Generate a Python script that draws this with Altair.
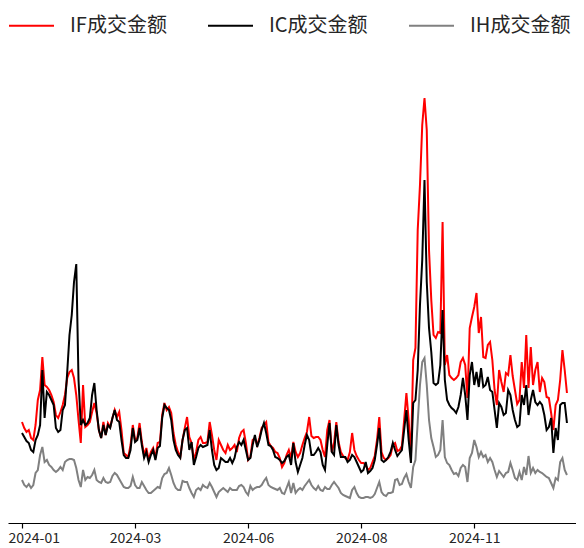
import altair as alt
import pandas as pd

series_names = ["IF成交金额", "IC成交金额", "IH成交金额"]
series_colors = ["#ff0000", "#000000", "#808080"]
draw_order = ["IH成交金额", "IF成交金额", "IC成交金额"]

tick_days = [0, 50, 100, 150, 200]
tick_labels = ["2024-01", "2024-03", "2024-06", "2024-08", "2024-11"]

# daily turnover (relative units), one value per trading day of 2024
if_values = [
    101, 95, 91, 93, 85, 83, 98, 123, 133, 166,
    138, 136, 133, 128, 121, 108, 105, 111, 118, 128,
    145, 151, 153, 145, 128, 103, 80, 138, 96, 98,
    101, 111, 120, 110, 93, 85, 101, 88, 100, 96,
    105, 113, 106, 111, 93, 70, 68, 66, 78, 98,
    83, 85, 100, 81, 68, 75, 63, 71, 75, 65,
    80, 81, 108, 120, 113, 116, 110, 90, 78, 71,
    66, 83, 95, 106, 86, 80, 63, 71, 83, 86,
    80, 80, 81, 101, 88, 73, 63, 83, 78, 73,
    70, 78, 73, 75, 78, 71, 85, 91, 93, 80,
    63, 66, 83, 85, 78, 85, 95, 98, 101, 81,
    77, 75, 71, 70, 65, 56, 60, 68, 73, 65,
    81, 71, 66, 70, 78, 85, 91, 106, 87, 85,
    86, 86, 83, 73, 66, 93, 103, 71, 80, 101,
    81, 71, 67, 65, 63, 71, 90, 73, 67, 63,
    60, 60, 58, 53, 55, 61, 67, 83, 106, 71,
    65, 63, 65, 68, 78, 80, 72, 73, 77, 103,
    130, 103, 65, 163, 175, 293, 338, 398, 425, 393,
    273, 223, 188, 185, 191, 190, 301, 158, 168, 148,
    145, 143, 145, 148, 161, 165, 158, 125, 195, 206,
    216, 230, 190, 206, 166, 165, 178, 181, 163, 133,
    118, 153, 141, 131, 150, 148, 168, 147, 133, 119,
    123, 161, 135, 188, 135, 176, 138, 153, 161, 131,
    145, 141, 126, 125, 110, 93, 118, 123, 143, 173,
    153, 130,
]

ic_values = [
    90, 86, 82, 80, 73, 71, 83, 88, 98, 153,
    105, 131, 128, 123, 118, 95, 91, 93, 113, 118,
    151, 188, 208, 241, 259, 143, 98, 103, 98, 100,
    105, 128, 140, 113, 93, 85, 98, 88, 98, 95,
    105, 113, 103, 101, 83, 68, 65, 65, 73, 95,
    81, 83, 95, 78, 65, 71, 61, 68, 73, 63,
    75, 77, 105, 118, 115, 113, 103, 83, 73, 68,
    65, 83, 93, 95, 73, 81, 58, 66, 75, 78,
    76, 77, 78, 93, 73, 58, 53, 55, 65, 63,
    61, 61, 65, 60, 65, 76, 81, 78, 83, 73,
    63, 65, 78, 88, 76, 83, 93, 100, 90, 78,
    77, 73, 66, 65, 63, 60, 62, 66, 68, 58,
    80, 61, 51, 58, 65, 78, 88, 83, 68, 68,
    71, 75, 71, 58, 53, 78, 100, 71, 68, 98,
    78, 66, 66, 66, 61, 63, 68, 66, 61, 56,
    51, 53, 61, 50, 52, 55, 63, 78, 95, 63,
    61, 63, 66, 71, 80, 73, 67, 70, 73, 93,
    113, 83, 60, 120, 123, 153, 218, 263, 343, 241,
    195, 171, 140, 138, 140, 158, 213, 143, 123, 118,
    115, 113, 110, 116, 128, 145, 128, 103, 148, 161,
    138, 151, 136, 155, 136, 138, 146, 133, 131, 113,
    95, 120, 116, 108, 110, 133, 128, 113, 103, 96,
    98, 128, 118, 138, 108, 123, 133, 121, 118, 121,
    118, 108, 93, 96, 105, 70, 95, 83, 118, 120,
    120, 100,
]

ih_values = [
    43, 38, 36, 39, 35, 38, 50, 53, 68, 76,
    61, 63, 58, 56, 53, 51, 53, 56, 53, 61,
    63, 64, 64, 63, 55, 43, 36, 53, 43, 46,
    45, 48, 53, 43, 41, 40, 45, 41, 40, 41,
    47, 50, 48, 44, 40, 36, 35, 35, 37, 46,
    38, 35, 35, 41, 37, 33, 30, 30, 32, 34,
    36, 35, 45, 49, 50, 55, 48, 40, 35, 33,
    33, 42, 41, 41, 35, 30, 26, 33, 35, 33,
    38, 36, 35, 40, 36, 31, 26, 31, 33, 35,
    33, 31, 35, 33, 33, 33, 37, 38, 36, 31,
    28, 37, 33, 35, 36, 36, 38, 42, 45, 38,
    36, 35, 34, 33, 35, 30, 29, 35, 41, 30,
    40, 30, 33, 35, 33, 37, 40, 43, 38, 35,
    33, 37, 33, 32, 36, 34, 34, 38, 41, 38,
    35, 30, 28, 27, 26, 25, 33, 36, 30, 26,
    25, 25, 26, 26, 25, 26, 29, 35, 41, 31,
    28, 27, 30, 30, 31, 43, 44, 38, 39, 45,
    49, 41, 35, 56, 63, 101, 138, 161, 165, 138,
    103, 85, 76, 66, 68, 73, 103, 66, 60, 58,
    53, 49, 50, 47, 55, 58, 56, 41, 65, 70,
    83, 76, 66, 71, 66, 68, 61, 65, 61, 53,
    46, 52, 49, 46, 50, 51, 60, 53, 45, 43,
    51, 43, 56, 48, 67, 50, 55, 50, 53, 51,
    50, 48, 46, 45, 40, 35, 45, 43, 61, 65,
    53, 48,
]

rows = []
for name, vals in zip(series_names, [if_values, ic_values, ih_values]):
    for day, v in enumerate(vals):
        rows.append({"day": day, "series": name, "value": v})
df = pd.DataFrame(rows)

label_expr = "''"
for d, lab in reversed(list(zip(tick_days, tick_labels))):
    label_expr = f"datum.value == {d} ? '{lab}' : " + label_expr

FONT = "Noto Sans CJK SC"

base = alt.Chart(df).mark_line(strokeWidth=2).encode(
    x=alt.X(
        "day:Q",
        scale=alt.Scale(domain=[-6.19, 245.0], nice=False, zero=False),
        axis=alt.Axis(
            values=tick_days,
            labelExpr=label_expr,
            title=None,
            grid=False,
            domainColor="#000000",
            domainWidth=1.2,
            tickColor="#000000",
            tickWidth=1.2,
            tickSize=5,
            labelFont=FONT,
            labelFontSize=14,
            labelColor="#262626",
            labelPadding=3,
            labelOverlap=False,
            labelAlign={"condition": {"test": f"datum.value == {tick_days[0]}", "value": "left"}, "value": "center"},
            labelOffset={"condition": {"test": f"datum.value == {tick_days[0]}", "value": -14}, "value": 0},
        ),
    ),
    y=alt.Y(
        "value:Q",
        scale=alt.Scale(domain=[0, 483], nice=False, zero=False),
        axis=None,
    ),
    color=alt.Color(
        "series:N",
        title=None,
        scale=alt.Scale(domain=series_names, range=series_colors),
        legend=alt.Legend(
            orient="none",
            legendX=0,
            legendY=-38,
            direction="horizontal",
            symbolType="stroke",
            symbolSize=2025,
            symbolStrokeWidth=2,
            labelFont=FONT,
            labelFontSize=20,
            labelColor="#262626",
            labelOffset=15,
            columnPadding=37,
            padding=0,
            labelLimit=0,
        ),
    ),
)

layers = [base.transform_filter(alt.datum.series == name) for name in draw_order]

chart = (
    alt.layer(*layers)
    .properties(
        width=568,
        height=483,
        padding={"left": 0, "top": 32, "right": 0, "bottom": 25},
        autosize=alt.AutoSizeParams(type="none"),
    )
    .configure_view(stroke=None)
)

chart.save("out.html", embed_options={"renderer": "svg", "actions": False})
